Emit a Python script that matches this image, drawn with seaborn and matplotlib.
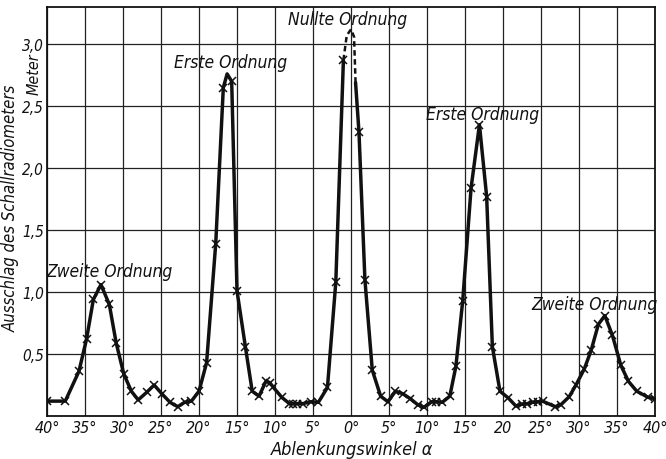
import matplotlib
matplotlib.use("Agg")
import matplotlib.pyplot as plt
import seaborn as sns
import pandas as pd

# ---- data ----
# measured points (x markers); negative angle = left side of the diagram
meas_x = [-40, -37.6, -35.8, -34.8, -33.9, -32.9, -31.8, -30.9, -29.9, -28.9, -28.0,
          -26.9, -25.9, -24.9, -23.8, -22.8, -21.9, -21.0, -20.0, -19.0, -17.8,
          -16.8, -15.7, -15.0, -13.9, -13.0, -12.1, -11.2, -10.7, -10.2, -9.1,
          -8.1, -7.6, -7.1, -6.3, -5.3, -4.3, -3.1, -2.0, -1.0,
          1.05, 1.83, 2.8, 3.9, 4.85, 5.85, 6.8, 7.8, 8.8, 9.6, 10.6, 11.2, 12.0,
          13.0, 13.8, 14.7, 15.8, 16.9, 17.85, 18.6, 19.6, 20.7, 21.7, 22.5, 23.2,
          23.9, 24.6, 25.2, 26.9, 27.6, 28.7, 29.6, 30.7, 31.6, 32.55, 33.4, 34.4,
          35.5, 36.5, 37.6, 39.1, 40]
meas_y = [0.12, 0.12, 0.36, 0.62, 0.94, 1.06, 0.90, 0.59, 0.34, 0.20, 0.13,
          0.19, 0.25, 0.18, 0.11, 0.075, 0.11, 0.12, 0.20, 0.43, 1.39,
          2.65, 2.70, 1.01, 0.56, 0.20, 0.16, 0.28, 0.27, 0.23, 0.15,
          0.10, 0.10, 0.10, 0.10, 0.115, 0.11, 0.23, 1.08, 2.87,
          2.29, 1.10, 0.37, 0.16, 0.115, 0.20, 0.18, 0.14, 0.09, 0.07, 0.115, 0.115, 0.11,
          0.16, 0.40, 0.93, 1.84, 2.35, 1.77, 0.56, 0.20, 0.145, 0.08, 0.095, 0.10,
          0.11, 0.115, 0.12, 0.075, 0.09, 0.155, 0.25, 0.38, 0.53, 0.74, 0.81, 0.65,
          0.41, 0.28, 0.20, 0.15, 0.14]

# drawn curve: solid left part, dashed summit of the zero order, solid right part
left_x = [-40, -37.6, -35.8, -34.8, -33.9, -32.9, -31.8, -30.9, -29.9, -28.9, -28.0,
          -26.9, -25.9, -24.9, -23.8, -22.8, -21.9, -21.0, -20.0, -19.0, -17.8,
          -16.8, -16.3, -15.7, -15.0, -13.9, -13.0, -12.1, -11.2, -10.7, -10.2, -9.1,
          -8.1, -7.6, -7.1, -6.3, -5.3, -4.3, -3.1, -2.0, -1.0]
left_y = [0.12, 0.12, 0.36, 0.62, 0.94, 1.06, 0.90, 0.59, 0.34, 0.20, 0.13,
          0.19, 0.25, 0.18, 0.11, 0.075, 0.11, 0.12, 0.20, 0.43, 1.39,
          2.65, 2.76, 2.70, 1.01, 0.56, 0.20, 0.16, 0.28, 0.27, 0.23, 0.15,
          0.10, 0.10, 0.10, 0.10, 0.115, 0.11, 0.23, 1.08, 2.87]
top_x = [-1.0, -0.56, 0.0, 0.4, 0.6]
top_y = [2.87, 3.07, 3.12, 3.06, 2.69]
right_x = [0.6, 1.05, 1.83, 2.8, 3.9, 4.85, 5.85, 6.8, 7.8, 8.8, 9.6, 10.6, 11.2, 12.0,
           13.0, 13.8, 14.7, 15.8, 16.9, 17.85, 18.6, 19.6, 20.7, 21.7, 22.5, 23.2,
           23.9, 24.6, 25.2, 26.9, 27.6, 28.7, 29.6, 30.7, 31.6, 32.55, 33.4, 34.4,
           35.5, 36.5, 37.6, 39.1, 40]
right_y = [2.69, 2.29, 1.10, 0.37, 0.16, 0.115, 0.20, 0.18, 0.14, 0.09, 0.07, 0.115, 0.115, 0.11,
           0.16, 0.40, 0.93, 1.84, 2.35, 1.77, 0.56, 0.20, 0.145, 0.08, 0.095, 0.10,
           0.11, 0.115, 0.12, 0.075, 0.09, 0.155, 0.25, 0.38, 0.53, 0.74, 0.81, 0.65,
           0.41, 0.28, 0.20, 0.15, 0.14]

x_ticks = [-40, -35, -30, -25, -20, -15, -10, -5, 0, 5, 10, 15, 20, 25, 30, 35, 40]
x_ticklabels = ['40°', '35°', '30°', '25°', '20°', '15°', '10°', '5°', '0°',
                '5°', '10°', '15°', '20', '25°', '30°', '35°', '40°']
y_ticks = [0.5, 1.0, 1.5, 2.0, 2.5, 3.0]
y_ticklabels = ['0,5', '1,0', '1,5', '2,0', '2,5', '3,0']

labels = ['Zweite Ordnung', 'Erste Ordnung', 'Nullte Ordnung', 'Erste Ordnung', 'Zweite Ordnung']
label_x = [-31.8, -15.8, -0.5, 17.3, 32.0]
label_y = [1.17, 2.86, 3.20, 2.44, 0.90]

# ---- drawing ----
sns.set_theme(style="white")
plt.rcParams['font.family'] = ['DejaVu Sans']
FONT = dict(family='DejaVu Sans', style='italic', stretch='condensed')

fig = plt.figure(figsize=(6.66, 4.60), dpi=100)
ax = fig.add_axes([47/666, 43/460, 608/666, 409/460])

df_left = pd.DataFrame({'x': left_x, 'y': left_y})
df_top = pd.DataFrame({'x': top_x, 'y': top_y})
df_right = pd.DataFrame({'x': right_x, 'y': right_y})
df_meas = pd.DataFrame({'x': meas_x, 'y': meas_y})

ink = '#111111'
sns.lineplot(data=df_left, x='x', y='y', sort=False, color=ink, lw=2.5, ax=ax,
             solid_joinstyle='round', solid_capstyle='round')
sns.lineplot(data=df_right, x='x', y='y', sort=False, color=ink, lw=2.5, ax=ax,
             solid_joinstyle='round', solid_capstyle='round')
sns.lineplot(data=df_top, x='x', y='y', sort=False, color=ink, lw=1.8, ax=ax,
             linestyle=(0, (2.2, 1.4)))
ax.plot(df_meas['x'], df_meas['y'], linestyle='none', marker='x', markersize=5.5,
        markeredgewidth=1.1, color=ink, zorder=5)

ax.set_xlim(-40, 40)
ax.set_ylim(0, 3.3)
ax.set_xticks(x_ticks)
ax.set_xticklabels(x_ticklabels, fontsize=11.5, **FONT)
ax.set_yticks(y_ticks)
ax.set_yticklabels(y_ticklabels, fontsize=11, **FONT)
ax.tick_params(length=0, pad=2, colors=ink)
ax.tick_params(axis='x', pad=3)
ax.grid(True, color='#222222', lw=0.9)
ax.set_axisbelow(True)
for s in ax.spines.values():
    s.set_visible(True)
    s.set_color(ink)
    s.set_linewidth(1.3)
ax.set_xlabel('')
ax.set_ylabel('')

for t, xx, yy in zip(labels, label_x, label_y):
    ax.text(xx, yy, t, ha='center', va='center', fontsize=12.5, color=ink, **FONT)

fig.text(352/666, 1 - 450/460, 'Ablenkungswinkel α', ha='center', va='center',
         fontsize=13, color=ink, **FONT)
fig.text(11/666, 1 - 208/460, 'Ausschlag des Schallradiometers', ha='center', va='center',
         rotation=90, fontsize=12, color=ink, **FONT)
fig.text(34/666, 1 - 74/460, 'Meter', ha='center', va='center',
         rotation=90, fontsize=11.5, color=ink, **FONT)

fig.savefig('out.png', dpi=100, facecolor='white')
